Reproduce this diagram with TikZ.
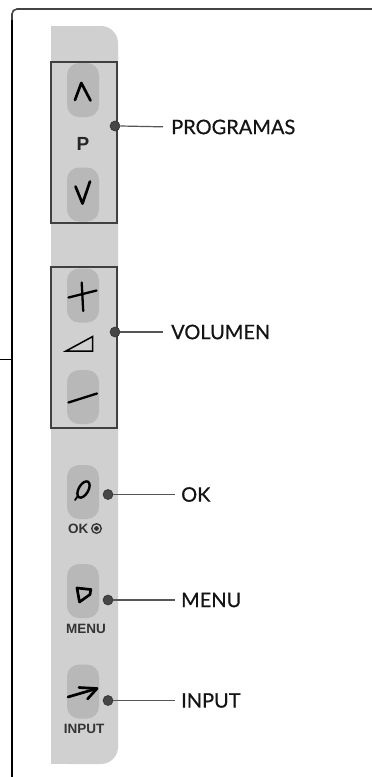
\documentclass[tikz,border=0pt]{standalone}
\usepackage{fontspec}
\setmainfont{Lato}
\newfontfamily\labelfont{Lato}[FakeBold=0.6]
\newfontfamily\smallsans{Liberation Sans Bold}
\definecolor{stripgray}{RGB}{208,208,208}
\definecolor{btngray}{RGB}{184,184,184}
\definecolor{framegray}{RGB}{68,68,68}
\definecolor{boxedge}{RGB}{64,64,64}
\definecolor{dotgray}{RGB}{70,70,70}
\definecolor{linegray}{RGB}{85,85,85}
\definecolor{labeltext}{RGB}{51,51,51}
\begin{document}
\begin{tikzpicture}[x=1pt,y=-1pt,
  btn/.style={draw=none,fill=btngray,rounded corners=12pt,minimum width=32pt,minimum height=54pt,inner sep=0pt},
  grp/.style={draw=boxedge,line width=1.2pt,fill=stripgray},
  pdot/.style={circle,fill=dotgray,draw=black!80,line width=0.6pt,minimum size=10pt,inner sep=0pt},
  conn/.style={draw=linegray,line width=1.2pt},
  biglabel/.style={anchor=west,inner sep=0pt,font=\labelfont\fontsize{20}{24}\selectfont,text=black!92},
  smalllabel/.style={inner sep=0pt,font=\smallsans\fontsize{13.5}{15}\selectfont,text=labeltext},
  plabel/.style={inner sep=0pt,font=\smallsans\fontsize{19}{21}\selectfont,text=black!85},
  icon/.style={draw=black,line width=2.7pt,line cap=round,line join=round}]
\useasboundingbox (0,0) rectangle (372,777);
% outer frame
\draw[framegray,line width=1.6pt,rounded corners=5pt] (372,9) -- (12,9) -- (12,30);
\draw[black,line width=1.3pt] (12,20) -- (12,778);
\draw[black,line width=1pt] (0,359) -- (12,359);
% strip
\fill[stripgray,rounded corners=17pt] (51,26) rectangle (118,764);
\fill[stripgray] (51,26) rectangle (90,764);
% group boxes
\draw[grp] (51,62) rectangle (117,223);
\draw[grp] (51,267) rectangle (117,428);
% buttons
\node[btn] (bup) at (83,90) {};
\node[btn] (bdown) at (83,194.5) {};
\node[btn] (bplus) at (83,295.5) {};
\node[btn] (bminus) at (83,397) {};
\node[btn] (bok) at (83,492) {};
\node[btn] (bmenu) at (83,591) {};
\node[btn] (binput) at (83,691.5) {};
% icons
\draw[icon] (75,100) -- (81.3,83) -- (90.5,100.5);
\draw[icon] (75.5,186.5) -- (82.5,203.5) -- (90,181.5);
\draw[icon,line width=2.3pt] (68.5,297.5) -- (96.5,290.5);
\draw[icon,line width=2.3pt] (81.7,282.5) -- (83.2,311);
\draw[black,line width=1.5pt,line join=miter] (66,351) -- (92.7,336.5) -- (92.7,351) -- cycle;
\draw[icon,line width=2.3pt] (68.5,402.5) -- (97,393.5);
\draw[icon,line width=2.4pt,rotate around={-30:(83.5,489.5)}] (83.5,489.5) ellipse[x radius=4.8,y radius=9];
\draw[icon,line width=1.8pt] (77.5,496.5) -- (75,500);
\draw[icon] (77,588) -- (90.8,589.5) -- (90,594.5) -- (79.5,602) -- cycle;
\draw[icon] (68,697) -- (97,688.5);
\draw[icon] (79,687.5) -- (97,688.5) -- (87.5,699);
% small labels
\node[plabel] (lp) at (83,144) {P};
\node[smalllabel,anchor=east] (lok) at (88.5,529) {OK};
\draw[labeltext,line width=1.3pt] (96.5,528.5) circle[radius=4.8];
\fill[labeltext] (96.5,528.5) circle[radius=2.4];
\node[smalllabel] (lmenu) at (86,629) {MENU};
\node[smalllabel] (linput) at (84,728.5) {INPUT};
% dots
\node[pdot] (dprog) at (115,126) {};
\node[pdot] (dvol) at (115,332) {};
\node[pdot] (dok) at (108,494.5) {};
\node[pdot] (dmenu) at (108,600) {};
\node[pdot] (dinput) at (108,700.5) {};
% big labels
\node[biglabel] (tprog) at (171,127) {PROGRAMAS};
\node[biglabel] (tvol) at (171,332) {VOLUMEN};
\node[biglabel] (tok) at (181,494.5) {OK};
\node[biglabel] (tmenu) at (181,600) {MENU};
\node[biglabel] (tinput) at (181,700.5) {INPUT};
% connectors
\draw[conn,shorten >=8pt] (dprog.east) -- (tprog.west);
\draw[conn,shorten >=8pt] (dvol.east) -- (tvol.west);
\draw[conn,shorten >=6pt] (dok.east) -- (tok.west);
\draw[conn,shorten >=6pt] (dmenu.east) -- (tmenu.west);
\draw[conn,shorten >=6pt] (dinput.east) -- (tinput.west);
\end{tikzpicture}
\end{document}
